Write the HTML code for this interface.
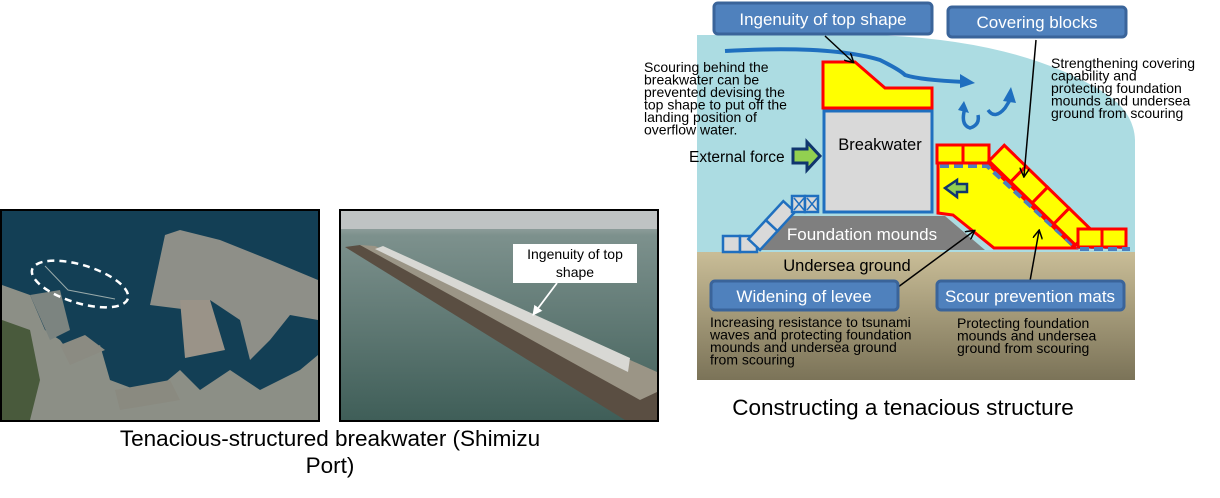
<!DOCTYPE html>
<html><head><meta charset="utf-8"><style>
body{margin:0;background:#fff;width:1220px;height:493px;overflow:hidden;font-family:"Liberation Sans",sans-serif}
</style></head><body>
<svg width="1220" height="493" viewBox="0 0 1220 493" xmlns="http://www.w3.org/2000/svg" font-family="Liberation Sans, sans-serif">
<defs>
<linearGradient id="gr" x1="0" y1="0" x2="0" y2="1"><stop offset="0" stop-color="#c9bd97"/><stop offset="1" stop-color="#7b7358"/></linearGradient>
<linearGradient id="sea2" x1="0" y1="0" x2="0" y2="1"><stop offset="0" stop-color="#b9bcbc"/><stop offset="0.12" stop-color="#7d918d"/><stop offset="1" stop-color="#3f5e58"/></linearGradient>
<marker id="ah" markerWidth="10" markerHeight="10" refX="8" refY="5" orient="auto" markerUnits="userSpaceOnUse"><path d="M0,0 L9,5 L0,10" fill="none" stroke="#000" stroke-width="1.5"/></marker>
<marker id="ahw" markerWidth="12" markerHeight="12" refX="9" refY="6" orient="auto" markerUnits="userSpaceOnUse"><path d="M0,1 L10,6 L0,11 Z" fill="#fff"/></marker>
</defs>

<!-- Left photo -->
<rect x="1" y="210" width="318" height="211" fill="#133f55" stroke="#000" stroke-width="2"/>
<path d="M2,285 L30,295 L45,330 L60,340 L75,360 L100,345 L110,380 L150,395 L180,370 L200,390 L230,370 L260,390 L300,370 L318,355 L318,420 L2,420Z" fill="#8c8f86"/>
<path d="M2,320 L30,330 L40,380 L30,420 L2,420Z" fill="#495a3c"/>
<path d="M30,295 L60,290 L70,330 L50,340Z" fill="#7c8480"/>
<path d="M150,305 L165,235 L180,230 L220,240 L270,260 L318,280 L318,320 L290,315 L270,340 L250,360 L240,320 L210,300 L190,310Z" fill="#8e8f88"/>
<path d="M180,300 L210,300 L225,350 L185,358Z" fill="#9a9388"/>
<path d="M60,345 L85,335 L105,350 L70,365Z" fill="#8b8b82"/>
<path d="M115,390 L170,380 L180,400 L120,410Z" fill="#8a8a80"/>
<ellipse cx="80" cy="284" rx="50" ry="19" transform="rotate(17 80 284)" fill="none" stroke="#fff" stroke-width="2.5" stroke-dasharray="7,5"/>
<path d="M45,266 L68,290 L115,299" fill="none" stroke="#9aa" stroke-width="1"/>

<!-- Right photo -->
<rect x="340" y="210" width="318" height="211" fill="url(#sea2)" stroke="#000" stroke-width="2"/>
<rect x="341" y="211" width="316" height="18" fill="#bfc3c3"/>
<path d="M345,247 L360,245 L657,380 L657,420 L625,420Z" fill="#5a4e42"/>
<path d="M360,245 L375,246 L657,372 L657,392 L640,400 Z" fill="#9b9586"/>
<path d="M375,249 L383,246 L630,358 L628,372 Z" fill="#d8d8d4"/>
<rect x="513" y="244" width="124" height="39" fill="#fff"/>
<text x="575" y="259" font-size="14" text-anchor="middle">Ingenuity of top</text>
<text x="575" y="277" font-size="14" text-anchor="middle">shape</text>
<line x1="557" y1="283" x2="533" y2="315" stroke="#fff" stroke-width="1.8" marker-end="url(#ahw)"/>

<text x="330" y="446" font-size="22.5" text-anchor="middle">Tenacious-structured breakwater (Shimizu</text>
<text x="330" y="473" font-size="22.5" text-anchor="middle">Port)</text>

<!-- Right diagram -->
<path d="M697,35 L820,35 Q1000,30 1100,90 Q1134,110 1135,140 L1135,252 L697,252Z" fill="#acdce2"/>
<rect x="697" y="252" width="438" height="128" fill="url(#gr)"/>

<path d="M725,51 Q830,45 880,60 Q900,70 905,75 Q920,80 965,82" fill="none" stroke="#1f6fbf" stroke-width="4"/>
<path d="M960,74 L975,83 L960,88Z" fill="#1f6fbf"/>
<path d="M965,108 Q960,125 970,128 Q980,125 978,115" fill="none" stroke="#1f6fbf" stroke-width="3.5"/>
<path d="M958,110 L964,101 L969,113Z" fill="#1f6fbf"/>
<path d="M988,110 Q995,120 1005,108 L1010,100" fill="none" stroke="#1f6fbf" stroke-width="3.5"/>
<path d="M1003,101 L1011,87 L1016,103Z" fill="#1f6fbf"/>

<path d="M760,250 L793,216 L945,216 L985,250Z" fill="#7f7f7f"/>
<text x="862" y="240" font-size="17" fill="#fff" text-anchor="middle">Foundation mounds</text>
<g fill="#d9d9d9" stroke="#1f6fbf" stroke-width="2.5">
<rect x="723" y="236" width="17" height="16"/><rect x="740" y="236" width="17" height="16"/>
<path d="M760,250 L777.5,231 L765.8,220.1 L748.3,239.1Z"/>
<path d="M777.5,231 L795,212 L783.3,201.1 L765.8,220.1Z"/>
<rect x="792" y="196" width="13" height="16"/><rect x="805" y="196" width="13" height="16"/>
</g>
<path d="M794,198 L804,210 M804,198 L794,210 M807,198 L817,210 M817,198 L807,210" stroke="#1f6fbf" stroke-width="1.5"/>

<rect x="824" y="111" width="108" height="101" fill="#d9d9d9" stroke="#1f6fbf" stroke-width="3"/>
<text x="880" y="150" font-size="16.5" text-anchor="middle">Breakwater</text>
<path d="M823,62 L855,62 L885,88 L932,88 L932,108 L823,108Z" fill="#ffff00" stroke="#ff0000" stroke-width="3"/>

<path d="M793,149 L807,149 L807,142 L820,156 L807,170 L807,163 L793,163Z" fill="#92d050" stroke="#10356e" stroke-width="3"/>
<text x="689" y="162" font-size="15.5">External force</text>

<path d="M938,163 L987,163 L1075,248 L994,248 L953,215 L938,213Z" fill="#ffff00" stroke="#ff0000" stroke-width="3"/>
<path d="M940,166 L987,166 L1075,247 L1130,247" fill="none" stroke="#4a7fbf" stroke-width="4" stroke-dasharray="9,5"/>
<path d="M957,180 L945,188 L957,197 L957,192 L967,192 L967,184 L957,184Z" fill="#92d050" stroke="#10356e" stroke-width="2.5"/>
<g fill="#ffff00" stroke="#ff0000" stroke-width="3">
<rect x="937" y="145" width="26" height="18"/><rect x="963" y="145" width="26" height="18"/>
<path d="M989,161 L1010.6,182 L1025.9,166.3 L1004.3,145.3Z"/>
<path d="M1010.6,182 L1032.2,203 L1047.5,187.3 L1025.9,166.3Z"/>
<path d="M1032.2,203 L1053.8,224 L1069.1,208.3 L1047.5,187.3Z"/>
<path d="M1053.8,224 L1075.4,245 L1090.7,229.3 L1069.1,208.3Z"/>
<rect x="1078" y="229" width="24" height="18"/><rect x="1102" y="229" width="24" height="18"/>
</g>
<path d="M1080,249 L1130,249" stroke="#4a7fbf" stroke-width="4" stroke-dasharray="9,5"/>

<text x="847" y="271" font-size="16.5" text-anchor="middle">Undersea ground</text>

<line x1="825" y1="36" x2="853" y2="62" stroke="#000" stroke-width="1.5" marker-end="url(#ah)"/>
<line x1="1036" y1="40" x2="1024" y2="176" stroke="#000" stroke-width="1.5" marker-end="url(#ah)"/>
<line x1="890" y1="293" x2="974" y2="231" stroke="#000" stroke-width="1.5" marker-end="url(#ah)"/>
<line x1="1030" y1="281" x2="1039" y2="231" stroke="#000" stroke-width="1.5" marker-end="url(#ah)"/>

<g fill="#4f81bd" stroke="#3a649a" stroke-width="3">
<rect x="714" y="3" width="218" height="31" rx="4"/>
<rect x="948" y="7" width="178" height="30" rx="4"/>
<rect x="711" y="281" width="187" height="29" rx="4"/>
<rect x="937" y="281" width="187" height="29" rx="4"/>
</g>
<g fill="#fff" font-size="17" text-anchor="middle">
<text x="823" y="25">Ingenuity of top shape</text>
<text x="1037" y="28">Covering blocks</text>
<text x="804" y="302">Widening of levee</text>
<text x="1030" y="302">Scour prevention mats</text>
</g>

<g font-size="14" fill="#000">
<text x="644" y="72">Scouring behind the</text>
<text x="644" y="84.5">breakwater can be</text>
<text x="644" y="97">prevented devising the</text>
<text x="644" y="109.5">top shape to put off the</text>
<text x="644" y="122">landing position of</text>
<text x="644" y="134.5">overflow water.</text>
<text x="1051" y="68">Strengthening covering</text>
<text x="1051" y="80.5">capability and</text>
<text x="1051" y="93">protecting foundation</text>
<text x="1051" y="105.5">mounds and undersea</text>
<text x="1051" y="118">ground from scouring</text>
<text x="710" y="327">Increasing resistance to tsunami</text>
<text x="710" y="339.5">waves and protecting foundation</text>
<text x="710" y="352">mounds and undersea ground</text>
<text x="710" y="364.5">from scouring</text>
<text x="957" y="328">Protecting foundation</text>
<text x="957" y="340.5">mounds and undersea</text>
<text x="957" y="353">ground from scouring</text>
</g>
<text x="903" y="415" font-size="22.5" text-anchor="middle">Constructing a tenacious structure</text>
</svg>
</body></html>
